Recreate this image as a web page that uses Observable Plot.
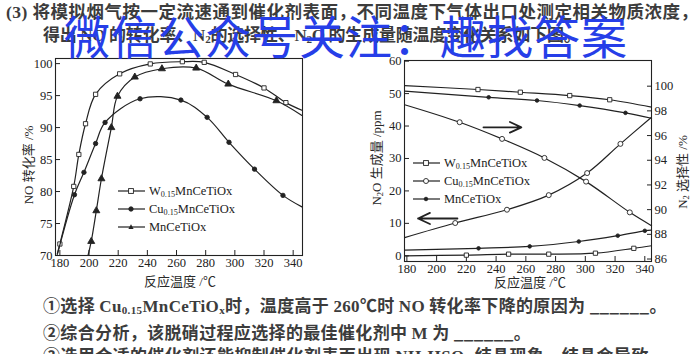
<!DOCTYPE html>
<html><head><meta charset="utf-8">
<script src="https://cdn.jsdelivr.net/npm/d3@7"></script>
<script src="https://cdn.jsdelivr.net/npm/@observablehq/plot@0.6"></script>
<style>
body{margin:0;background:#fff;}
#page{position:relative;width:700px;height:354px;overflow:hidden;background:#fff;}
.t{position:absolute;white-space:nowrap;font-family:"Noto Sans CJK SC",sans-serif;color:#3c3c3c;font-weight:bold;line-height:1;}
.lat{font-family:"Liberation Serif","Noto Sans CJK SC",serif;}
.chart{position:absolute;}
.lab{position:absolute;white-space:nowrap;font-family:"Liberation Serif","Noto Sans CJK SC",serif;font-size:13px;color:#2a2a2a;line-height:1;transform:translate(-50%,-50%);}
.rot{transform:translate(-50%,-50%) rotate(-90deg);}
.leg{position:absolute;font-family:"Liberation Serif",serif;font-size:12.5px;color:#222;line-height:1;}
.leg div{display:flex;align-items:center;height:18px;}
.leg svg{margin-right:4px;}
sub{font-size:65%;vertical-align:-2px;line-height:0;}
#wm{position:absolute;left:64px;top:11px;font-family:"Noto Sans CJK SC",sans-serif;font-size:46px;color:rgb(38,62,232);letter-spacing:1px;white-space:nowrap;line-height:1;}
</style></head>
<body><div id="page">
<div class="t" style="left:6px;top:2px;font-size:17.5px;letter-spacing:0.5px;"><span class="lat">(3)</span> 将模拟烟气按一定流速通到催化剂表面，不同温度下气体出口处测定相关物质浓度，</div>
<div class="t" style="left:43px;top:25px;font-size:17px;letter-spacing:-0.2px;">得出 <span class="lat">NO</span> 的转化率、<span class="lat">N<sub>2</sub></span>的选择性、<span class="lat">N<sub>2</sub>O</span> 的生成量随温度变化关系如下图。</div>
<div id="left" class="chart" style="left:0;top:50px;"></div>
<div id="right1" class="chart" style="left:350px;top:50px;"></div>
<div id="right2" class="chart" style="left:350px;top:50px;"></div>
<div class="lab rot" style="left:28px;top:165px;">NO 转化率 /%</div>
<div class="lab" style="left:180px;top:281px;">反应温度 /℃</div>
<div class="lab rot" style="left:376px;top:158px;">N<sub>2</sub>O 生成量 /ppm</div>
<div class="lab rot" style="left:682px;top:172px;">N<sub>2</sub> 选择性 /%</div>
<div class="lab" style="left:530px;top:282px;">反应温度 /℃</div>
<div class="leg" id="legL" style="left:118px;top:182px;"></div>
<div class="leg" id="legR" style="left:413px;top:154px;"></div>
<div class="t" style="left:43px;top:296px;font-size:17px;letter-spacing:0.35px;">①选择 <span class="lat">Cu<sub>0.15</sub>MnCeTiO<sub>x</sub></span>时，温度高于 <span class="lat">260℃</span>时 <span class="lat">NO</span> 转化率下降的原因为 ______。</div>
<div class="t" style="left:43px;top:323px;font-size:17px;letter-spacing:0.35px;">②综合分析，该脱硝过程应选择的最佳催化剂中 <span class="lat">M</span> 为 ______。</div>
<div class="t" style="left:43px;top:346px;font-size:17px;letter-spacing:0.4px;">③选用合适的催化剂还能抑制催化剂表面出现 <span class="lat">NH<sub>4</sub>HSO<sub>4</sub></span> 结晶现象，结晶会导致</div>
<div id="wm">微信公众号关注：趣找答案</div>
</div>
<script>
// ---------- Data ----------
const xTicks = [180,200,220,240,260,280,300,320,340];
const noTicks = [70,75,80,85,90,95,100];
const ppmTicks = [0,10,20,30,40,50,60];
const selTicks = [86,88,90,92,94,96,98,100];

// Left chart: NO conversion (%) vs temperature (°C)
const noW_T  = [178.2,180,189.5,193,197.6,204.5,221,242,264,279,300.5,320,335,346];
const noW_V  = [70.2,71.8,80.8,85.8,90.6,95.2,98.4,99.95,100.3,100.2,98.3,96.2,93.9,92.7];
const noCu_T = [178.3,190,196.5,204.5,211,235,263,281,296,313.5,333,346];
const noCu_V = [70.2,79.5,83,87.5,90.8,94.5,94.3,91.6,87.7,83.5,79.4,77.6];
const noMn_T = [199.3,201.5,205,208.5,215.3,219.5,231.4,250,273.5,295.5,328.5,346];
const noMn_V = [70,72.2,77,82,90,94.9,97.9,99.2,99.3,96.8,94.2,91.9];

// Right chart: N2O (ppm, left axis) and N2 selectivity (%, right axis)
const n2oW_T  = [178.5,220,248.4,275.4,306.8,332.6,344.5];
const n2oW_V  = [0,0.2,0.5,0.5,0.8,2.3,3.1];
const n2oMn_T = [178.5,228.2,262.6,295.6,321.8,340,344.5];
const n2oMn_V = [1.75,2.3,2.9,4.4,6.2,7.7,7.9];
const n2oCu_T = [178.5,212.5,247.3,275.4,301.2,323.6,344.5];
const n2oCu_V = [5.6,10.1,14.2,18.7,25.5,34.5,42.7];
const selW_T  = [178.5,227.8,256.3,289.5,316.4,344.5];
const selW_V  = [100.05,99.73,99.51,99.24,98.9,98.3];
const selMn_T = [178.5,235,267.5,296.2,327,344.5];
const selMn_V = [99.6,99.1,98.84,98.43,97.84,97.4];
const selCu_T = [178.5,215.5,244,272.5,300.5,329.9,344.5];
const selCu_V = [98.5,97.08,95.73,94.19,92.27,89.78,88.7];

// Arrow annotations (temperature from, temperature to, ppm level)
const arrowToRight = [231.5, 257, 39.6];
const arrowToLeft  = [214, 187.5, 11.5];

// ---------- Helpers ----------
const rows = (T, V) => T.map((t, i) => ({t, v: V[i]}));
const ink = "#222";
const style = {fontFamily: "'Liberation Serif', 'Times New Roman', serif", fontSize: "12.5px", color: ink, background: "transparent", overflow: "visible"};
function series(T, V, sym, fill, r) {
  const d = rows(T, V);
  return [
    Plot.line(d, {x: "t", y: "v", curve: "catmull-rom", stroke: ink, strokeWidth: 1.2}),
    Plot.dot(d.slice(1, -1), {x: "t", y: "v", symbol: sym, r, fill, stroke: ink, strokeWidth: 0.9})
  ];
}
const L = {W: ["square", "white", 2.4], Cu: ["circle", ink, 2.2], Mn: ["triangle", ink, 2.6]};
const R = {W: ["square", "white", 2.4], Cu: ["circle", "white", 2.5], Mn: ["circle", ink, 1.8]};

// ---------- Left chart ----------
document.getElementById("left").append(Plot.plot({
  width: 345, height: 240, marginLeft: 55, marginRight: 43, marginTop: 8, marginBottom: 35,
  x: {domain: [177, 346.4]}, y: {domain: [70, 100.8]}, style,
  marks: [
    Plot.axisX({ticks: xTicks, tickSize: -5, tickPadding: 8, label: null, tickFormat: d => d}),
    Plot.axisY({ticks: noTicks, tickSize: -5, tickPadding: 8, label: null}),
    ...series(noW_T, noW_V, ...L.W),
    ...series(noCu_T, noCu_V, ...L.Cu),
    ...series(noMn_T, noMn_V, ...L.Mn),
    Plot.frame({stroke: ink, strokeWidth: 1.1})
  ]
}));

// ---------- Right chart (ppm layer) ----------
document.getElementById("right1").append(Plot.plot({
  width: 350, height: 240, marginLeft: 54, marginRight: 49, marginTop: 10, marginBottom: 29,
  x: {domain: [178.4, 344.5]}, y: {domain: [-1.76, 60.2]}, style,
  marks: [
    Plot.axisX({ticks: xTicks, tickSize: -5, tickPadding: 8, label: null, tickFormat: d => d}),
    Plot.axisY({ticks: ppmTicks, tickSize: -5, tickPadding: 8, label: null}),
    ...series(n2oW_T, n2oW_V, ...R.W),
    ...series(n2oMn_T, n2oMn_V, ...R.Mn),
    ...series(n2oCu_T, n2oCu_V, ...R.Cu),
    Plot.arrow([arrowToRight], {x1: d => d[0], x2: d => d[1], y1: d => d[2], y2: d => d[2], stroke: ink, strokeWidth: 1.8, headLength: 11, headAngle: 50}),
    Plot.arrow([arrowToLeft], {x1: d => d[0], x2: d => d[1], y1: d => d[2], y2: d => d[2], stroke: ink, strokeWidth: 1.8, headLength: 11, headAngle: 50}),
    Plot.frame({stroke: ink, strokeWidth: 1.1})
  ]
}));

// ---------- Right chart (selectivity layer, right axis) ----------
document.getElementById("right2").append(Plot.plot({
  width: 350, height: 240, marginLeft: 54, marginRight: 49, marginTop: 10, marginBottom: 29,
  x: {domain: [178.4, 344.5], axis: null}, y: {domain: [85.8, 102.08], axis: null}, style,
  marks: [
    Plot.axisY({ticks: selTicks, anchor: "right", tickSize: -5, tickPadding: 8, label: null}),
    ...series(selW_T, selW_V, ...R.W),
    ...series(selMn_T, selMn_V, ...R.Mn),
    ...series(selCu_T, selCu_V, ...R.Cu)
  ]
}));

// ---------- Legends ----------
function legend(el, sty) {
  const keys = ["W", "Cu", "Mn"];
  el.innerHTML = keys.map(k => {
    const [sym, fill, r] = sty[k];
    let m;
    if (sym === "square") m = `<rect x="${13 - r}" y="${5 - r}" width="${2 * r}" height="${2 * r}" fill="${fill}" stroke="${ink}" stroke-width="0.9"/>`;
    else if (sym === "circle") m = `<circle cx="13" cy="5" r="${r}" fill="${fill}" stroke="${ink}" stroke-width="0.9"/>`;
    else m = `<path d="M13,${5 - r * 1.1}L${13 + r},${5 + r * 0.8}L${13 - r},${5 + r * 0.8}Z" fill="${fill}"/>`;
    const name = k === "Mn" ? "MnCeTiOx" : `${k}<sub>0.15</sub>MnCeTiOx`;
    return `<div><svg width="27" height="10"><line x1="0" x2="27" y1="5" y2="5" stroke="${ink}" stroke-width="1.2"/>${m}</svg><span>${name}</span></div>`;
  }).join("");
}
legend(document.getElementById("legL"), L);
legend(document.getElementById("legR"), R);
</script>
</body></html>
